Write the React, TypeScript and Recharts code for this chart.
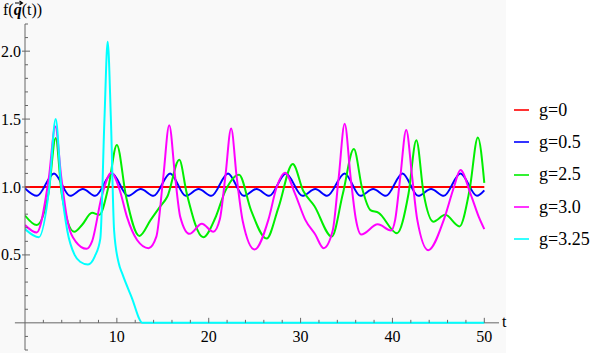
import React from "react";
import { LineChart, Line, XAxis, YAxis, ReferenceLine, Legend } from "recharts";

// [t, f] pairs
const g0: [number, number][] = [
  [0, 1], [50, 1]
];

const g05: [number, number][] = [
  [0, 0.99], [1.3, 0.935], [3.16, 1.1], [4.9, 0.935], [6.3, 0.985], [7.65, 0.935],
  [9.48, 1.1], [11.2, 0.935], [12.6, 0.985], [14.0, 0.935], [15.8, 1.1], [17.5, 0.935],
  [18.9, 0.985], [20.3, 0.935], [22.1, 1.1], [23.8, 0.935], [25.2, 0.985], [26.6, 0.935],
  [28.4, 1.1], [30.2, 0.935], [31.6, 0.985], [32.9, 0.935], [34.8, 1.1], [36.5, 0.935],
  [37.9, 0.985], [39.3, 0.935], [41.1, 1.1], [42.8, 0.935], [44.2, 0.985], [45.6, 0.935],
  [47.4, 1.1], [49.2, 0.935], [50, 0.975]
];

const g25: [number, number][] = [
  [0, 0.79], [1.27, 0.72], [2.55, 0.95], [3.34, 1.36], [4.0, 0.95], [5.37, 0.67],
  [6.2, 0.72], [7.3, 0.81], [8.1, 0.795], [9.08, 1.0], [10.0, 1.31], [11.0, 0.93],
  [12.45, 0.64], [13.7, 0.76], [14.7, 0.855], [15.5, 0.93], [16.8, 1.2], [17.6, 0.955],
  [19.4, 0.63], [20.7, 0.77], [21.8, 0.97], [23.3, 1.09], [24.6, 0.83], [26.3, 0.62],
  [27.6, 0.85], [29.15, 1.17], [30.3, 0.97], [31.5, 0.86], [33.4, 0.635], [34.6, 0.95],
  [35.8, 1.28], [36.7, 0.99], [37.6, 0.83], [38.5, 0.81], [40.5, 0.66], [41.75, 0.95],
  [42.6, 1.345], [43.4, 0.95], [44.45, 0.745], [45.75, 0.795], [47.3, 0.71], [48.4, 0.98],
  [49.3, 1.365], [50, 1.03]
];

const g30: [number, number][] = [
  [0, 0.72], [1.27, 0.665], [2.6, 1.07], [3.3, 1.445], [3.95, 1.07], [4.6, 0.76],
  [5.5, 0.6], [6.7, 0.545], [7.3, 0.6], [8.35, 0.93], [9.4, 1.105], [10.3, 0.98],
  [11.1, 0.78], [12.2, 0.61], [13.45, 0.55], [14.3, 0.635], [15.05, 1.07], [15.7, 1.455],
  [16.35, 1.07], [16.9, 0.78], [17.9, 0.655], [19.25, 0.73], [20.5, 0.67], [21.2, 0.76],
  [21.8, 1.07], [22.44, 1.43], [23.05, 1.07], [23.7, 0.75], [25.0, 0.54], [26.5, 0.76],
  [27.4, 1.0], [28.3, 1.105], [29.4, 0.95], [30.5, 0.76], [31.6, 0.65], [32.5, 0.55],
  [33.5, 0.68], [34.15, 1.07], [34.8, 1.465], [35.45, 1.07], [36.0, 0.77], [36.6, 0.65],
  [38.4, 0.725], [39.85, 0.68], [40.3, 0.76], [40.85, 1.07], [41.5, 1.42], [42.15, 1.07],
  [42.7, 0.76], [43.9, 0.535], [45.6, 0.76], [46.7, 1.0], [47.4, 1.125], [48.5, 0.95],
  [49.4, 0.78], [50, 0.69]
];

const g325: [number, number][] = [
  [0, 0.69], [1.5, 0.63], [2.65, 1.0], [3.34, 1.5], [3.95, 1.0], [4.6, 0.68],
  [5.4, 0.5], [6.0, 0.45], [6.85, 0.43], [7.6, 0.49], [8.2, 0.62], [8.65, 1.5],
  [9.0, 2.07], [9.35, 1.5], [9.7, 0.68], [10.2, 0.44], [10.6, 0.36], [11.6, 0.19],
  [12.8, 0], [50, 0]
];

const seriesNames = ["g=0", "g=0.5", "g=2.5", "g=3.0", "g=3.25"];
const seriesColors = ["#ff0000", "#0000ff", "#00ee00", "#ff00ff", "#00ffff"];
const seriesPoints = [g0, g05, g25, g30, g325];

const xLabels = [10, 20, 30, 40, 50];
const yLabels = [0.5, 1.0, 1.5, 2.0];

const W = 595;
const H = 353;
const Y_MIN = -0.2;
const Y_MAX = 2.2;
const X_MAX = 51.6;
const TOP = 24;
const X_AXIS_H = 3;
const PLOT_H = H - TOP - X_AXIS_H;
const Y0_OFFSET = (PLOT_H * (0 - Y_MIN)) / (Y_MAX - Y_MIN);
const AXIS = "#666666";
const FONT = "Liberation Serif, Tinos, Times New Roman, Times, Noto Serif, DejaVu Serif, FreeSerif, serif";

const xTicks = Array.from({ length: 25 }, (_, i) => (i + 1) * 2);
const yTicks = Array.from({ length: 25 }, (_, i) => Math.round((Y_MIN + i * 0.1) * 10) / 10);

const XTick = (props: any) => {
  const { x, y, payload } = props;
  const major = xLabels.includes(payload.value);
  const y0 = y - Y0_OFFSET;
  return (
    <g>
      <line x1={x} x2={x} y1={y0} y2={y0 - (major ? 5 : 3)} stroke={AXIS} />
      {major && (
        <text x={x} y={y0 + 19} textAnchor="middle" fontFamily={FONT} fontSize={16} fill="#000">
          {payload.value}
        </text>
      )}
    </g>
  );
};

const YTick = (props: any) => {
  const { x, y, payload } = props;
  const major = yLabels.includes(payload.value);
  if (payload.value === 0) return <g />;
  return (
    <g>
      <line x1={major ? x - 3 : x} x2={x + (major ? 5 : 3)} y1={y} y2={y} stroke={AXIS} />
      {major && (
        <text x={x - 4} y={y + 5.5} textAnchor="end" fontFamily={FONT} fontSize={16} fill="#000">
          {payload.value.toFixed(1)}
        </text>
      )}
    </g>
  );
};

const renderLegend = () => (
  <div style={{ fontFamily: FONT, fontSize: 18, color: "#000", textAlign: "left" }}>
    {seriesNames.map((n, i) => (
      <div key={n} style={{ height: 32.3, display: "flex", alignItems: "center" }}>
        <svg width={25} height={4}>
          <line x1={0} x2={15} y1={2} y2={2} stroke={seriesColors[i]} strokeWidth={1.6} />
        </svg>
        <span>{n}</span>
      </div>
    ))}
  </div>
);

export default function App() {
  return (
    <div style={{ position: "absolute", left: 0, top: 0, width: W, height: H, background: "#fff", fontFamily: FONT }}>
      <div style={{ position: "absolute", left: 0, top: 0, width: 506, height: H, background: "#f9f9f9" }} />
      <div
        style={{
          position: "absolute",
          left: 3,
          top: 1,
          fontSize: 16,
          lineHeight: "18px",
          whiteSpace: "nowrap",
        }}
      >
        f(
        <span style={{ position: "relative", display: "inline-block", fontStyle: "italic", fontWeight: "bold" }}>
          q
          <svg width={10} height={6} style={{ position: "absolute", left: 0, top: -1 }}>
            <path d="M1 3 H8 M5.5 1 L8.5 3 L5.5 5" stroke="#000" strokeWidth={1.1} fill="none" />
          </svg>
        </span>
        (t))
      </div>
      <div style={{ position: "absolute", left: 502, top: 313, fontSize: 16, lineHeight: "18px" }}>t</div>
      <div style={{ position: "absolute", left: 0, top: 0 }}>
        <LineChart width={W} height={H} margin={{ top: TOP, right: W - 499, bottom: 0, left: 0 }}>
          <XAxis
            dataKey="t"
            type="number"
            domain={[0, X_MAX]}
            ticks={xTicks}
            interval={0}
            axisLine={false}
            tickLine={false}
            tickSize={0}
            tickMargin={0}
            height={X_AXIS_H}
            tick={<XTick />}
            allowDataOverflow
          />
          <YAxis
            type="number"
            domain={[Y_MIN, Y_MAX]}
            ticks={yTicks}
            interval={0}
            width={25}
            axisLine={{ stroke: AXIS }}
            tickLine={false}
            tickSize={0}
            tickMargin={0}
            tick={<YTick />}
            allowDataOverflow
          />
          <ReferenceLine
            segment={[{ x: -1.1, y: 0 }, { x: X_MAX, y: 0 }]}
            stroke={AXIS}
            ifOverflow="visible"
          />
          {seriesPoints.map((pts, i) => (
            <Line
              key={seriesNames[i]}
              name={seriesNames[i]}
              data={pts.map(([t, v]) => ({ t, v }))}
              dataKey="v"
              type="monotone"
              stroke={seriesColors[i]}
              strokeWidth={2}
              dot={false}
              activeDot={false}
              isAnimationActive={false}
            />
          ))}
          <Legend
            layout="horizontal"
            verticalAlign="middle"
            align="center"
            wrapperStyle={{ left: 514, top: 94, width: 81 }}
            content={renderLegend}
          />
        </LineChart>
      </div>
    </div>
  );
}
